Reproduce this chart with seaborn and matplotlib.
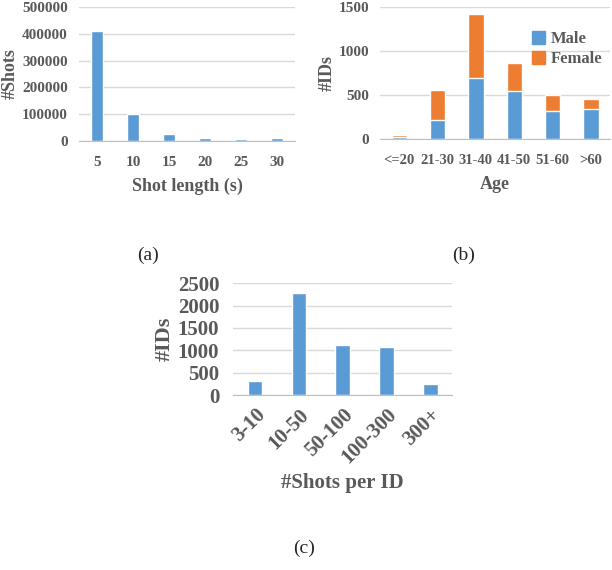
import numpy as np
import pandas as pd
import seaborn as sns
from matplotlib import pyplot as plt
from matplotlib.patches import Patch

# (a) shot length histogram
shot_len = ['5', '10', '15', '20', '25', '30']
shot_count = [410000, 101000, 26000, 12000, 6000, 13000]

# (b) age / gender of identities
age_groups = ['<=20', '21-30', '31-40', '41-50', '51-60', '>60']
male = [25, 217, 693, 541, 322, 341]
female = [20, 340, 731, 326, 174, 117]

# (c) shots per identity
shots_per_id = ['3-10', '10-50', '50-100', '100-300', '300+']
id_count = [318, 2280, 1110, 1073, 244]

blue = '#5B9BD5'
orange = '#ED7D31'
grey = '#595959'

sns.set_style('white')
plt.rcParams['font.family'] = ['Liberation Serif', 'DejaVu Serif']
plt.rcParams['font.weight'] = 'bold'

fig = plt.figure(figsize=(6.12, 5.70), dpi=100)

def style(ax, ymax, step, xlabel, ylabel, tsize=11, lsize=13):
    ax.set_ylim(0, ymax)
    ax.set_yticks(np.arange(0, ymax + 1, step))
    ax.yaxis.grid(True, color='#D9D9D9', linewidth=1)
    ax.set_axisbelow(True)
    for s in ['top', 'right', 'left']:
        ax.spines[s].set_visible(False)
    ax.spines['bottom'].set_color('#BFBFBF')
    ax.tick_params(axis='both', colors=grey, labelsize=tsize, length=0, pad=8)
    ax.tick_params(axis='x', pad=11)
    for t in ax.get_xticklabels() + ax.get_yticklabels():
        t.set_fontweight('bold')
    ax.set_xlabel(xlabel, color=grey, fontsize=lsize, fontweight='bold', labelpad=6)
    ax.set_ylabel(ylabel, color=grey, fontsize=lsize, fontweight='bold', labelpad=2)

#(a)
ax1 = fig.add_axes([0.129, 0.7526, 0.353, 0.235])
sns.barplot(x=shot_len, y=shot_count, color=blue, width=0.34, saturation=1, ax=ax1)
style(ax1, 500000, 100000, 'Shot length (s)', '#Shots')

#(b) stacked: total in orange, male over it in blue
ax2 = fig.add_axes([0.621, 0.756, 0.376, 0.2316])
total = [m + f for m, f in zip(male, female)]
sns.barplot(x=age_groups, y=total, color=orange, width=0.4, saturation=1, ax=ax2)
sns.barplot(x=age_groups, y=male, color=blue, width=0.4, saturation=1, ax=ax2)
style(ax2, 1500, 500, 'Age', '#IDs')
ax2.tick_params(axis='x', labelsize=10.5, pad=11)
ax2.set_xticks(np.arange(-0.5, len(age_groups)), minor=True)
ax2.tick_params(axis='x', which='minor', length=5, color='#BFBFBF', width=1)
ax2.legend(handles=[Patch(color=blue, label='Male'), Patch(color=orange, label='Female')],
           loc='upper right', bbox_to_anchor=(1.03, 0.93), frameon=False,
           prop={'size': 12, 'weight': 'bold'}, labelcolor=grey,
           handlelength=0.8, handleheight=0.8, handletextpad=0.3, labelspacing=0.2)

#(c)
ax3 = fig.add_axes([0.381, 0.307, 0.358, 0.196])
sns.barplot(x=shots_per_id, y=id_count, color=blue, width=0.33, saturation=1, ax=ax3)
style(ax3, 2500, 500, '#Shots per ID', '#IDs', tsize=15, lsize=15)
ax3.tick_params(axis='x', pad=7)
ax3.tick_params(axis='y', pad=10)
ax3.xaxis.labelpad = 4
ax3.yaxis.label.set_fontsize(16)
plt.setp(ax3.get_xticklabels(), rotation=45, ha='right', rotation_mode='anchor')

fig.text(148 / 612, 1 - 255 / 570, '(a)', ha='center', va='center', fontsize=14, fontweight='normal')
fig.text(464 / 612, 1 - 255 / 570, '(b)', ha='center', va='center', fontsize=14, fontweight='normal')
fig.text(304 / 612, 1 - 548 / 570, '(c)', ha='center', va='center', fontsize=14, fontweight='normal')

plt.savefig('out.png', dpi=100)
